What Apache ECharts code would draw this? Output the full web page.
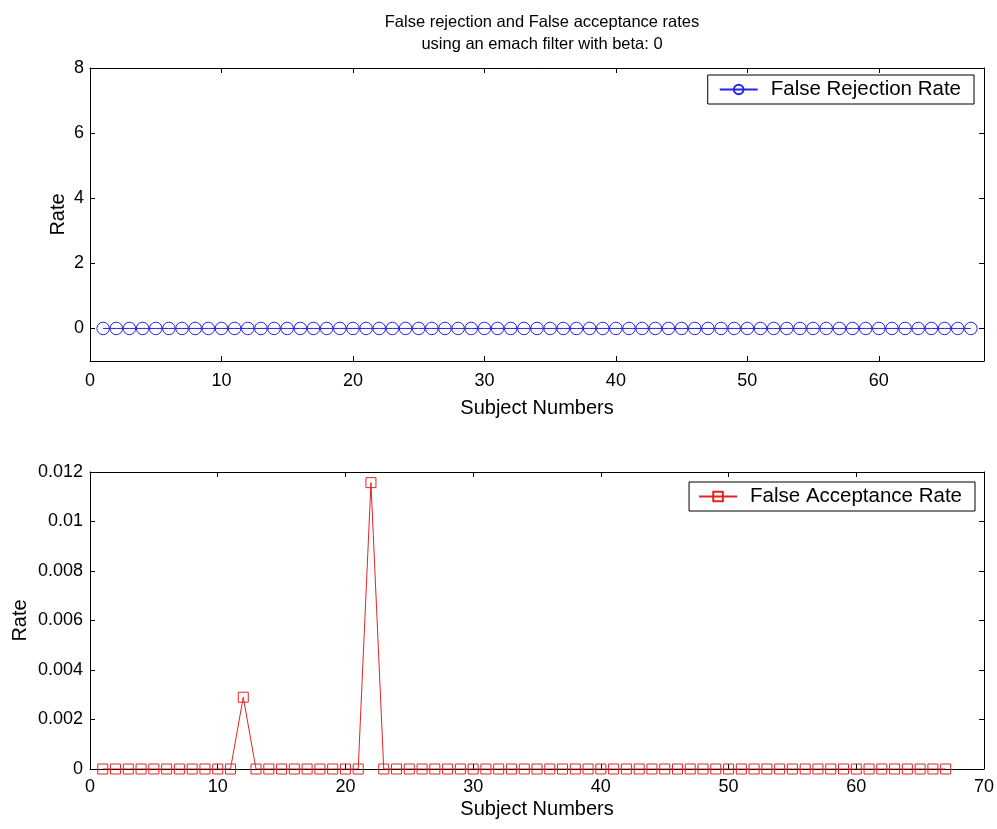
<!DOCTYPE html>
<html>
<head>
<meta charset="utf-8">
<script src="https://cdn.jsdelivr.net/npm/echarts@6/dist/echarts.min.js"></script>
<style>html,body{margin:0;padding:0;background:#fff;}#c{width:997px;height:829px;}</style>
</head>
<body>
<div id="c"></div>
<script>
const subjects = Array.from({length: 67}, (_, i) => i + 1);
const frrValues = [0,0,0,0,0,0,0,0,0,0,0,0,0,0,0,0,0,0,0,0,0,0,0,0,0,0,0,0,0,0,0,0,0,0,0,0,0,0,0,0,0,0,0,0,0,0,0,0,0,0,0,0,0,0,0,0,0,0,0,0,0,0,0,0,0,0,0];
const farValues = [0,0,0,0,0,0,0,0,0,0,0,0.0029,0,0,0,0,0,0,0,0,0,0.01157,0,0,0,0,0,0,0,0,0,0,0,0,0,0,0,0,0,0,0,0,0,0,0,0,0,0,0,0,0,0,0,0,0,0,0,0,0,0,0,0,0,0,0,0,0];
const topYTicks = [0, 2, 4, 6, 8];
const titleLines = ['False rejection and False acceptance rates', 'using an emach filter with beta: 0'];

const FONT = 'Liberation Sans, Arial, sans-serif';
const axisLine = {show: true, onZero: false, lineStyle: {color: '#000', width: 1}};
const tick = {show: true, inside: true, length: 5, lineStyle: {color: '#000'}};
const label = {color: '#000', fontSize: 18, fontFamily: FONT};
const nameStyle = {color: '#000', fontSize: 20, fontFamily: FONT};

function mirror(base, pos) {
  return Object.assign({}, base, {position: pos, name: '', axisLabel: {show: false}, axisLine: axisLine, axisTick: tick, splitLine: {show: false}});
}

const x0 = {type: 'value', gridIndex: 0, min: 0, max: 68, interval: 10, position: 'bottom',
  axisLine: axisLine, axisTick: tick, splitLine: {show: false},
  axisLabel: Object.assign({margin: 11, showMaxLabel: false}, label),
  name: 'Subject Numbers', nameLocation: 'middle', nameGap: 37, nameMoveOverlap: false, nameTextStyle: nameStyle};
const x1 = {type: 'value', gridIndex: 1, min: 0, max: 70, interval: 10, position: 'bottom',
  axisLine: axisLine, axisTick: tick, splitLine: {show: false},
  axisLabel: Object.assign({margin: 9}, label),
  name: 'Subject Numbers', nameLocation: 'middle', nameGap: 30, nameMoveOverlap: false, nameTextStyle: nameStyle};
const y0 = {type: 'value', gridIndex: 0, min: -1, max: 8, position: 'left',
  axisLine: axisLine, splitLine: {show: false},
  axisTick: Object.assign({customValues: topYTicks}, tick),
  axisLabel: Object.assign({customValues: topYTicks, margin: 6}, label),
  name: 'Rate', nameLocation: 'middle', nameGap: 22, nameRotate: 90, nameMoveOverlap: false, nameTextStyle: nameStyle};
const y1 = {type: 'value', gridIndex: 1, min: 0, max: 0.012, interval: 0.002, position: 'left',
  axisLine: axisLine, axisTick: tick, splitLine: {show: false},
  axisLabel: Object.assign({margin: 7}, label),
  name: 'Rate', nameLocation: 'middle', nameGap: 60, nameRotate: 90, nameMoveOverlap: false, nameTextStyle: nameStyle};

const legendText = {color: '#000', fontSize: 20.5, fontFamily: FONT, padding: [0, 0, 0, 8]};
const chart = echarts.init(document.getElementById('c'));
chart.setOption({
  backgroundColor: '#fff',
  animation: false,
  title: {text: titleLines.join('\n'), left: 537, textAlign: 'center', top: 6,
    textStyle: {color: '#000', fontSize: 16.5, fontWeight: 'normal', fontFamily: FONT, lineHeight: 22}},
  grid: [
    {left: 90, right: 13, top: 68, height: 293},
    {left: 90, right: 13, top: 472, height: 297}
  ],
  legend: [
    {data: ['False Rejection Rate'], right: 23, top: 75, orient: 'vertical',
      borderColor: '#000', borderWidth: 1, backgroundColor: '#fff', borderRadius: 0,
      padding: [4, 13, 4, 11], itemWidth: 38, itemHeight: 12, itemGap: 0,
      textStyle: legendText},
    {data: ['False Acceptance Rate'], right: 22, top: 482, orient: 'vertical',
      borderColor: '#000', borderWidth: 1, backgroundColor: '#fff', borderRadius: 0,
      padding: [4, 13, 4, 9], itemWidth: 38, itemHeight: 12, itemGap: 0,
      textStyle: legendText}
  ],
  xAxis: [x0, mirror(x0, 'top'), x1, mirror(x1, 'top')],
  yAxis: [y0, mirror(y0, 'right'), y1, mirror(y1, 'right')],
  series: [
    {name: 'False Rejection Rate', type: 'line', xAxisIndex: 0, yAxisIndex: 0,
      data: subjects.map((s, i) => [s, frrValues[i]]),
      symbol: 'circle', symbolSize: 12.5, showAllSymbol: true,
      lineStyle: {color: '#2525e8', width: 1},
      itemStyle: {color: 'rgba(255,255,255,0)', borderColor: '#2525e8', borderWidth: 1}},
    {name: 'False Acceptance Rate', type: 'line', xAxisIndex: 2, yAxisIndex: 2,
      data: subjects.map((s, i) => [s, farValues[i]]),
      symbol: 'rect', symbolSize: 10, showAllSymbol: true,
      lineStyle: {color: '#e02525', width: 1},
      itemStyle: {color: 'rgba(255,255,255,0)', borderColor: '#e02525', borderWidth: 1}}
  ]
});
</script>
</body>
</html>
